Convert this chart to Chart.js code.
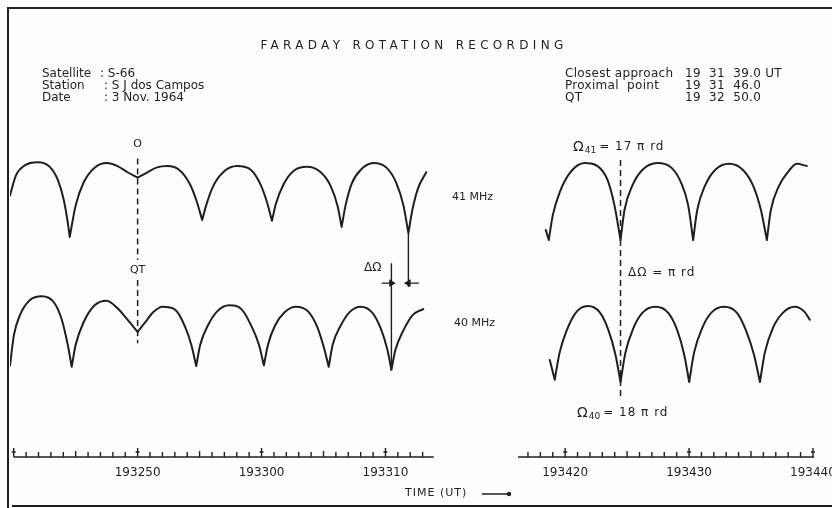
<!DOCTYPE html>
<html>
<head>
<meta charset="utf-8">
<script src="https://cdn.jsdelivr.net/npm/chart.js@4.4.1/dist/chart.umd.min.js"></script>
<style>
  html, body { margin: 0; padding: 0; background: #fdfdfc; }
  #wrap { width: 832px; height: 508px; }
</style>
</head>
<body>
<div id="wrap"><canvas id="faraday" width="832" height="508"></canvas></div>
<script>
// Faraday rotation recording - S-66, S J dos Campos, 3 Nov 1964
// time = seconds after 19:32:00 UT, level = relative signal level

// 41 MHz, first part of the record
const t41a = [39.70, 40.18, 40.90, 41.95, 42.91, 43.56, 44.04, 44.36, 44.52, 45.00, 45.65, 46.53, 47.50, 48.38, 49.18, 50.00, 50.80, 51.51, 52.40, 53.36, 54.17, 54.73, 55.21, 55.53, 56.10, 56.90, 58.02, 59.15, 59.95, 60.44, 60.84, 61.16, 61.80, 62.61, 63.65, 64.78, 65.58, 66.14, 66.46, 66.78, 67.27, 67.99, 69.04, 70.08, 70.88, 71.45, 71.85, 72.17, 72.65, 73.29];
const a41a = [5.8, 8.4, 9.7, 10.1, 9.5, 7.8, 5.2, 2.3, 0.4, 4.5, 7.5, 9.4, 10.0, 9.6, 8.8, 8.1, 8.8, 9.4, 9.6, 9.1, 7.4, 5.2, 2.6, 4.5, 7.0, 8.8, 9.6, 9.1, 7.1, 4.9, 2.5, 4.7, 7.3, 9.0, 9.5, 8.8, 7.0, 4.4, 1.7, 4.5, 7.3, 9.1, 10.0, 9.4, 7.4, 4.5, 0.9, 3.9, 6.8, 8.8];
// 40 MHz, first part
const t40a = [39.70, 40.02, 40.50, 41.31, 42.27, 43.24, 43.88, 44.36, 44.68, 45.00, 45.65, 46.53, 47.50, 48.38, 49.18, 50.00, 50.63, 51.27, 52.00, 53.04, 53.85, 54.33, 54.73, 55.05, 55.69, 56.42, 57.38, 58.43, 59.23, 59.79, 60.19, 60.52, 61.08, 61.88, 62.77, 63.81, 64.53, 65.02, 65.42, 65.74, 66.38, 67.11, 67.99, 68.95, 69.68, 70.16, 70.48, 70.80, 71.45, 72.25, 73.05];
const a40a = [2.2, 6.2, 8.8, 10.8, 11.3, 10.5, 8.2, 4.9, 2.0, 4.9, 7.9, 10.1, 10.7, 9.7, 8.2, 6.6, 7.9, 9.2, 9.9, 9.5, 7.2, 4.9, 2.1, 4.9, 7.5, 9.3, 10.1, 9.5, 7.2, 4.9, 2.2, 4.9, 7.4, 9.2, 9.9, 9.2, 7.1, 4.6, 2.0, 4.9, 7.4, 9.2, 9.9, 9.1, 6.8, 4.2, 1.6, 4.2, 6.8, 8.9, 9.6];
// 41 MHz, second part
const t41b = [138.44, 138.68, 139.00, 139.56, 140.37, 141.57, 142.62, 143.42, 143.98, 144.47, 144.79, 145.43, 146.23, 147.44, 148.57, 149.37, 149.93, 150.33, 150.66, 151.30, 152.10, 153.23, 154.35, 155.16, 155.80, 156.28, 156.60, 157.25, 157.97, 158.69, 159.50];
const a41b = [1.3, 0.0, 3.2, 6.2, 8.7, 10.0, 9.6, 7.8, 4.5, 0.0, 3.9, 7.1, 9.1, 10.0, 9.4, 7.4, 4.5, 0.0, 3.9, 7.1, 9.1, 9.9, 9.1, 7.1, 3.9, 0.0, 3.9, 7.0, 8.8, 9.9, 9.6];
// 40 MHz, second part
const t40b = [138.76, 139.16, 139.56, 140.13, 140.85, 141.81, 142.78, 143.50, 144.06, 144.47, 144.87, 145.51, 146.23, 147.28, 148.32, 149.05, 149.61, 150.01, 150.41, 151.06, 151.78, 152.82, 153.87, 154.59, 155.24, 155.72, 156.12, 156.76, 157.57, 158.53, 159.34, 159.74];
const a40b = [2.9, 0.3, 3.9, 6.8, 9.1, 10.0, 9.2, 6.8, 3.6, 0.0, 3.9, 7.1, 9.1, 9.9, 9.1, 6.8, 3.6, 0.0, 3.9, 7.1, 9.1, 9.9, 9.1, 6.8, 3.6, 0.0, 3.9, 7.1, 9.1, 9.9, 9.2, 8.2];

// time axis
const tickTimes = [50, 60, 70, 140, 150, 160];
const tickLabels = ['193250', '193300', '193310', '193420', '193430', '193440'];
const rulerSpans = [[40.0, 73.9], [136.2, 160.1]];

// markers
const qtTime = 50.0;      // QT 19 32 50.0
const omegaTime = 144.47;
const null41 = 71.85, null40 = 70.48;

const INK = '#1f1f1f';
const FONT = '"DejaVu Sans", sans-serif';

// the record is cut between the two parts: shift the second part left
const GAP = 55.5;
function ax(t) {
    return t > 100 ? t - GAP : t;
}

function series(ts, as) {
    var pts = [];
    ts.forEach(function (t, i) {
        var p = { x: ax(t), y: as[i] };
        pts.push(p);
        // a null is a cusp: end the curve there and start again from the same point
        if (i > 0 && i < as.length - 1 && as[i] < as[i - 1] && as[i] < as[i + 1]) {
            pts.push({ x: p.x, y: null }, { x: p.x, y: p.y });
        }
    });
    return pts;
}

const d41 = series(t41a, a41a).concat([{ x: 80, y: null }], series(t41b, a41b));
const d40 = series(t40a, a40a).concat([{ x: 80, y: null }], series(t40b, a40b));

function txt(c, s, x, y, size, align) {
    c.font = size + 'px ' + FONT;
    c.textAlign = align || 'left';
    c.fillText(s, x, y);
}

function omegaLabel(c, sub, rest, x, y) {
    c.textAlign = 'left';
    c.font = '14px ' + FONT;
    c.fillText('\u03A9', x, y);
    var w = c.measureText('\u03A9').width;
    c.font = '9px ' + FONT;
    c.fillText(sub, x + w + 1, y + 4);
    var w2 = c.measureText(sub).width;
    c.letterSpacing = '1px';
    c.font = '12px ' + FONT;
    c.fillText(rest, x + w + w2 + 4, y);
    c.letterSpacing = '0px';
}

const paper = {
    id: 'paper',
    beforeDraw: function (chart) {
        var c = chart.ctx;
        c.save();
        c.fillStyle = '#fdfdfc';
        c.fillRect(0, 0, chart.width, chart.height);
        c.strokeStyle = INK;
        c.lineWidth = 2;
        c.beginPath();
        c.moveTo(8, 508); c.lineTo(8, 8); c.lineTo(832, 8);
        c.moveTo(12, 506); c.lineTo(832, 506);
        c.stroke();
        c.restore();
    },
    afterDraw: function (chart) {
        var c = chart.ctx;
        var X = chart.scales.x;
        c.save();
        c.fillStyle = INK;
        c.strokeStyle = INK;
        c.textBaseline = 'middle';

        // time ruler
        var base = 457;
        c.lineWidth = 1.4;
        rulerSpans.forEach(function (s) {
            c.beginPath();
            c.moveTo(X.getPixelForValue(ax(s[0])), base);
            c.lineTo(X.getPixelForValue(ax(s[1])), base);
            for (var t = Math.ceil(s[0]); t <= s[1]; t++) {
                var px = X.getPixelForValue(ax(t));
                var h = t % 10 == 0 ? 9 : (t % 5 == 0 ? 6 : 5);
                c.moveTo(px, base);
                c.lineTo(px, base - h);
                if (t % 10 == 0) {
                    c.moveTo(px - 2, base - 5);
                    c.lineTo(px + 2, base - 5);
                }
            }
            c.stroke();
        });
        tickTimes.forEach(function (t, i) {
            txt(c, tickLabels[i], X.getPixelForValue(ax(t)), 473, 12, 'center');
        });
        c.letterSpacing = '1px';
        txt(c, 'TIME (UT)', 405, 493, 11);
        c.letterSpacing = '0px';
        c.lineWidth = 1.5;
        c.beginPath();
        c.moveTo(482, 494); c.lineTo(508, 494);
        c.stroke();
        c.beginPath();
        c.arc(509, 494, 2.2, 0, Math.PI * 2);
        c.fill();

        // title and header
        c.letterSpacing = '4.3px';
        txt(c, 'FARADAY ROTATION RECORDING', 414, 46, 12, 'center');
        c.letterSpacing = '0px';
        txt(c, 'Satellite', 42, 74, 12);
        txt(c, ': S-66', 100, 74, 12);
        txt(c, 'Station', 42, 86, 12);
        txt(c, ': S J dos Campos', 104, 86, 12);
        txt(c, 'Date', 42, 98, 12);
        txt(c, ': 3 Nov. 1964', 104, 98, 12);
        c.letterSpacing = '0.3px';
        txt(c, 'Closest approach', 565, 74, 12);
        txt(c, '19  31  39.0 UT', 685, 74, 12);
        txt(c, 'Proximal  point', 565, 86, 12);
        txt(c, '19  31  46.0', 685, 86, 12);
        txt(c, 'QT', 565, 98, 12);
        txt(c, '19  32  50.0', 685, 98, 12);
        c.letterSpacing = '0px';

        // trace labels
        txt(c, '41 MHz', 452, 197, 11);
        txt(c, '40 MHz', 454, 323, 11);
        var qx = X.getPixelForValue(ax(qtTime));
        txt(c, 'O', qx, 144, 11, 'center');
        txt(c, 'QT', qx, 270, 11, 'center');
        txt(c, '\u0394\u03A9', 364, 268, 12);
        omegaLabel(c, '41', '= 17 \u03C0 rd', 573, 147);
        c.letterSpacing = '1px';
        txt(c, '\u0394\u03A9 = \u03C0 rd', 628, 273, 12);
        c.letterSpacing = '0px';
        omegaLabel(c, '40', '= 18 \u03C0 rd', 577, 413);
        c.restore();
    }
};

const dashed = { borderColor: INK, borderWidth: 1.5, borderDash: [6, 4], pointRadius: 0, yAxisID: 'y41', tension: 0 };
const solid = { borderColor: INK, borderWidth: 1.4, pointRadius: 0, yAxisID: 'y41', tension: 0 };
const trace = { borderColor: INK, borderWidth: 2, pointRadius: 0, cubicInterpolationMode: 'monotone', borderCapStyle: 'round', borderJoinStyle: 'round' };

new Chart(document.getElementById('faraday'), {
    type: 'line',
    data: {
        datasets: [Object.assign({
            label: '41 MHz',
            data: d41,
            yAxisID: 'y41'
        }, trace), Object.assign({
            label: '40 MHz',
            data: d40,
            yAxisID: 'y40'
        }, trace), Object.assign({
            label: 'QT',
            data: [{ x: ax(qtTime), y: 10.6 }, { x: ax(qtTime), y: -2.6 }, { x: ax(qtTime), y: null },
                   { x: ax(qtTime), y: -5.2 }, { x: ax(qtTime), y: -13.4 }]
        }, dashed), Object.assign({
            label: 'Omega',
            data: [{ x: ax(omegaTime), y: 10.4 }, { x: ax(omegaTime), y: -20.5 }]
        }, dashed), Object.assign({
            label: 'null 41',
            data: [{ x: ax(null41), y: 0.9 }, { x: ax(null41), y: -6.1 }]
        }, solid), Object.assign({
            label: 'null 40',
            data: [{ x: ax(null40), y: -3.0 }, { x: ax(null40), y: -16.9 }]
        }, solid), Object.assign({
            label: 'arrow 40',
            data: [{ x: ax(69.7), y: -5.6 }, { x: ax(null40), y: -5.6 }],
            pointStyle: 'triangle',
            pointRotation: 90,
            pointBackgroundColor: INK
        }, solid, { pointRadius: [0, 3] }), Object.assign({
            label: 'arrow 41',
            data: [{ x: ax(72.7), y: -5.6 }, { x: ax(null41), y: -5.6 }],
            pointStyle: 'triangle',
            pointRotation: -90,
            pointBackgroundColor: INK
        }, solid, { pointRadius: [0, 3] })]
    },
    options: {
        responsive: false,
        animation: false,
        spanGaps: false,
        layout: { padding: { left: 10, right: 2, top: 10, bottom: 10 } },
        plugins: {
            legend: { display: false },
            tooltip: { enabled: false }
        },
        scales: {
            x: { type: 'linear', min: 39.7, max: 105.6, display: false },
            y41: { type: 'linear', min: -33.5, max: 29.87, display: false },
            y40: { type: 'linear', min: -15.26, max: 48.95, display: false }
        }
    },
    plugins: [paper]
});
</script>
</body>
</html>
